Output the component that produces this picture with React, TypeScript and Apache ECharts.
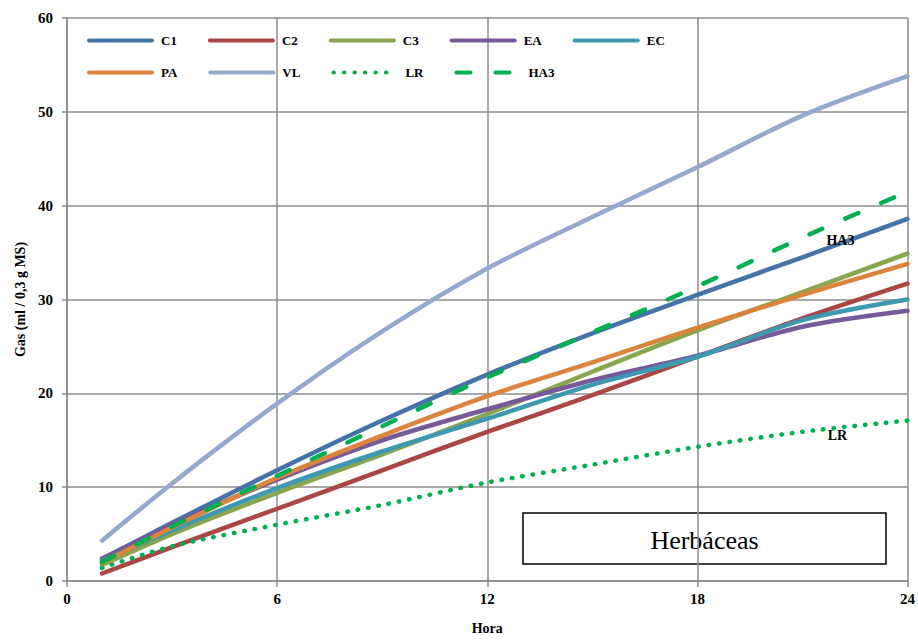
import React, { useEffect, useRef } from "react";
import * as echarts from "echarts";

// Sampling hours (Hora)
const hours = [1, 3, 6, 9, 12, 15, 18, 21, 24];

// Cumulative gas production, ml / 0,3 g MS
const c1 = [2.3, 6.2, 11.8, 17.1, 22.0, 26.4, 30.5, 34.5, 38.6];
const c2 = [0.8, 3.6, 7.7, 11.8, 15.9, 19.8, 23.9, 28.0, 31.7];
const c3 = [1.7, 5.0, 9.4, 13.5, 17.8, 22.3, 26.7, 30.8, 34.9];
const ea = [2.4, 6.0, 10.8, 15.0, 18.3, 21.4, 24.0, 27.1, 28.8];
const ec = [2.1, 5.4, 9.9, 13.8, 17.3, 20.9, 23.9, 27.8, 30.0];
const pa = [1.9, 5.7, 11.0, 15.5, 19.7, 23.3, 27.0, 30.5, 33.8];
const vl = [4.3, 10.4, 18.9, 26.6, 33.3, 38.8, 44.1, 49.6, 53.8];
const lr = [1.4, 3.7, 6.0, 8.1, 10.5, 12.4, 14.3, 15.9, 17.1];
const ha3 = [2.0, 5.8, 11.2, 16.5, 21.7, 26.5, 31.4, 36.6, 41.5];

const xTicks = [0, 6, 12, 18, 24];
const legendRow1 = ["C1", "C2", "C3", "EA", "EC"];
const legendRow2 = ["PA", "VL", "LR", "HA3"];

// In-plot series tags: [hour, value]
const tagHA3: [number, number] = [22, 38.3];
const tagLR: [number, number] = [22, 16.4];

const SERIF = "Liberation Serif";

const pairs = (ys: number[]) => hours.map((h, i) => [h, ys[i]]);

export default function App() {
  const ref = useRef<HTMLDivElement>(null);

  useEffect(() => {
    if (!ref.current) return;
    const chart = echarts.init(ref.current, null, { renderer: "svg" });

    const lineSeries = (name: string, ys: number[], color: string, extra: any = {}) => ({
      name,
      type: "line",
      data: pairs(ys),
      smooth: 0.3,
      symbol: "none",
      lineStyle: { color, width: 4.5, cap: "round", join: "round", ...(extra.lineStyle || {}) },
      itemStyle: { color },
      ...(extra.markPoint ? { markPoint: extra.markPoint } : {}),
    });

    const tag = (name: string, coord: [number, number], offset: number[]) => ({
      silent: true,
      symbol: "circle",
      symbolSize: 1,
      itemStyle: { color: "rgba(0,0,0,0)" },
      label: {
        show: true,
        position: "inside",
        offset,
        formatter: name,
        color: "#000",
        fontFamily: SERIF,
        fontWeight: "bold",
        fontSize: 14,
      },
      data: [{ coord }],
    });

    const legendBase = {
      left: 87,
      padding: 0,
      itemWidth: 63,
      itemHeight: 12,
      itemGap: 31,
      itemStyle: { opacity: 0 },
      lineStyle: { width: 4 },
      textStyle: {
        fontFamily: SERIF,
        fontWeight: "bold",
        fontSize: 13,
        color: "#000",
        padding: [0, 0, 0, 4],
      },
    };

    const axisFont = { fontFamily: SERIF, fontWeight: "bold", color: "#000" };

    chart.setOption({
      animation: false,
      backgroundColor: "#fff",
      grid: { left: 67, right: 10, top: 18, bottom: 55 },
      legend: [
        { ...legendBase, top: 34, data: legendRow1 },
        { ...legendBase, top: 66, data: legendRow2 },
      ],
      xAxis: {
        type: "value",
        min: 0,
        max: 24,
        interval: 6,
        name: "Hora",
        nameLocation: "middle",
        nameGap: 40,
        nameTextStyle: { ...axisFont, fontSize: 14 },
        axisLine: { show: true, lineStyle: { color: "#8c8c8c", width: 1.5 } },
        axisTick: { show: true, length: 6, lineStyle: { color: "#8c8c8c", width: 1.5 } },
        axisLabel: { ...axisFont, margin: 10, fontSize: 15, customValues: xTicks },
        splitLine: { show: true, lineStyle: { color: "#8c8c8c", width: 1.5 } },
      },
      yAxis: {
        type: "value",
        min: 0,
        max: 60,
        interval: 10,
        name: "Gas (ml / 0,3 g MS)",
        nameLocation: "middle",
        nameGap: 38,
        nameRotate: 90,
        nameTextStyle: { ...axisFont, fontSize: 14 },
        axisLine: { show: true, lineStyle: { color: "#8c8c8c", width: 1.5 } },
        axisTick: { show: true, length: 5, lineStyle: { color: "#8c8c8c", width: 1.5 } },
        axisLabel: { ...axisFont, margin: 14, fontSize: 15 },
        splitLine: { show: true, lineStyle: { color: "#8c8c8c", width: 1.5 } },
      },
      series: [
        lineSeries("C1", c1, "#4572A7"),
        lineSeries("C2", c2, "#AA4643"),
        lineSeries("C3", c3, "#89A54E"),
        lineSeries("EA", ea, "#765A9A"),
        lineSeries("EC", ec, "#3D98B0"),
        lineSeries("PA", pa, "#DB843D"),
        lineSeries("VL", vl, "#93A9CF"),
        lineSeries("LR", lr, "#00B050", {
          lineStyle: { type: [0.5, 10], cap: "round" },
          markPoint: tag("LR", tagLR, [0, 8]),
        }),
        lineSeries("HA3", ha3, "#00B050", {
          lineStyle: { type: [14, 25], cap: "round" },
          markPoint: tag("HA3", tagHA3, [3, 19]),
        }),
      ],
      graphic: [
        {
          type: "group",
          children: [
            {
              type: "rect",
              shape: { x: 523, y: 513, width: 363, height: 51 },
              style: { fill: "#fff", stroke: "#000", lineWidth: 1.5 },
            },
            {
              type: "text",
              x: 704.5,
              y: 540,
              style: {
                text: "Herbáceas",
                fontFamily: SERIF,
                fontSize: 26,
                fill: "#000",
                align: "center",
                verticalAlign: "middle",
              },
            },
          ],
        },
      ],
    });

    return () => chart.dispose();
  }, []);

  return (
    <div
      ref={ref}
      style={{ position: "fixed", left: 0, top: 0, width: 918, height: 640, background: "#fff" }}
    />
  );
}
